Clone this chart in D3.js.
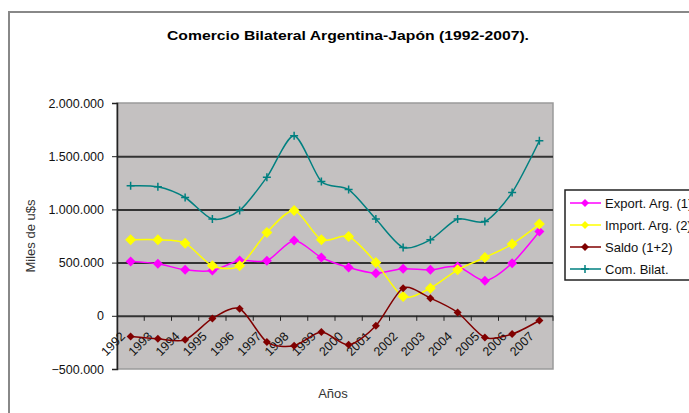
<!DOCTYPE html>
<html>
<head>
<meta charset="utf-8">
<script src="https://cdn.jsdelivr.net/npm/d3@7"></script>
<style>
  body { margin: 0; background: #fff; }
  svg { display: block; font-family: Arial, "Liberation Sans", sans-serif; }
</style>
</head>
<body>
<svg id="chart" width="689" height="413"></svg>
<script>
// data (miles de u$s)
var years = ["1992","1993","1994","1995","1996","1997","1998","1999","2000","2001","2002","2003","2004","2005","2006","2007"];
var exportArg = [510000, 489000, 432000, 426000, 520000, 517000, 708000, 548000, 454000, 401000, 442000, 432000, 464000, 329000, 495000, 792000];
var importArg = [714000, 714000, 683000, 470000, 470000, 783000, 990000, 714000, 745000, 501000, 181000, 260000, 432000, 548000, 674000, 862000];
var saldo     = [-194000, -216000, -226000, -25000, 66000, -247000, -282000, -153000, -273000, -94000, 260000, 166000, 31000, -204000, -172000, -44000];
var comBilat  = [1222000, 1212000, 1112000, 909000, 990000, 1303000, 1692000, 1262000, 1186000, 909000, 642000, 714000, 909000, 886000, 1159000, 1645000];
var yTicks = [-500000, 0, 500000, 1000000, 1500000, 2000000];

var series = [
    {name: "Export. Arg. (1)", values: exportArg, color: "#ff00ff", marker: "diamond", size: 5},
    {name: "Import. Arg. (2)", values: importArg, color: "#ffff00", marker: "diamond", size: 5.5},
    {name: "Saldo (1+2)",      values: saldo,     color: "#800000", marker: "diamond", size: 4},
    {name: "Com. Bilat.",      values: comBilat,  color: "#008080", marker: "plus",    size: 4}
];

var svg = d3.select("svg#chart");

var margin = {top: 103, right: 136, bottom: 44, left: 117};
var plotWidth = 689 - margin.left - margin.right;
var plotHeight = 413 - margin.top - margin.bottom;

var locale = d3.formatLocale({decimal: ",", thousands: ".", grouping: [3], currency: ["$", ""]});
var fmt = locale.format(",");

// outer frame of the chart area
svg.append("path")
    .attr("d", "M9,413 L9,12 L700,12")
    .attr("fill", "none")
    .attr("stroke", "#888888")
    .attr("stroke-width", 2);

svg.append("text")
    .attr("x", 348)
    .attr("y", 40)
    .attr("text-anchor", "middle")
    .attr("textLength", 362)
    .attr("lengthAdjust", "spacingAndGlyphs")
    .style("font-size", "13.5px")
    .style("font-weight", "bold")
    .text("Comercio Bilateral Argentina-Japón (1992-2007).");

var plot = svg.append("g")
    .attr("id", "plot")
    .attr("transform", "translate(" + margin.left + "," + margin.top + ")");

var x = d3.scaleBand()
    .domain(years)
    .range([0, plotWidth]);

var y = d3.scaleLinear()
    .domain([-500000, 2000000])
    .range([plotHeight, 0]);

plot.append("rect")
    .attr("width", plotWidth)
    .attr("height", plotHeight)
    .attr("fill", "#c4c1c1")
    .attr("stroke", "#9a9a9a")
    .attr("stroke-width", 1.5);

// gridlines
var gridlines = d3.axisLeft(y)
    .tickValues([0, 500000, 1000000, 1500000])
    .tickFormat("")
    .tickSize(-plotWidth);

plot.append("g")
    .call(gridlines)
    .call(function(g) { g.select(".domain").remove(); })
    .selectAll("line")
    .attr("stroke", "#333333")
    .attr("stroke-width", 2);

// y axis
var yAxis = d3.axisLeft(y)
    .tickValues(yTicks)
    .tickFormat(fmt)
    .tickSize(5)
    .tickPadding(8);

var yGroup = plot.append("g").attr("id", "y-axis").call(yAxis);
yGroup.select(".domain").attr("stroke", "#222").attr("stroke-width", 1.5);
yGroup.selectAll("line").attr("stroke", "#222");
yGroup.selectAll("text").style("font-size", "12.5px").attr("fill", "#111");

// x axis at zero: tick marks at category boundaries
var xAxis = d3.axisBottom(x).tickSize(0).tickFormat("");
var xGroup = plot.append("g")
    .attr("id", "x-axis")
    .attr("transform", "translate(0," + y(0) + ")")
    .call(xAxis);
xGroup.select(".domain").remove();

xGroup.selectAll("line.bound")
    .data(years.slice(1).concat(["end"]))
    .enter().append("line")
    .attr("class", "bound")
    .attr("x1", function(d, i) { return x.step() * (i + 1); })
    .attr("x2", function(d, i) { return x.step() * (i + 1); })
    .attr("y1", 0)
    .attr("y2", 5)
    .attr("stroke", "#222");

xGroup.selectAll("text.year")
    .data(years)
    .enter().append("text")
    .attr("class", "year")
    .attr("text-anchor", "end")
    .style("font-size", "12.5px")
    .attr("fill", "#111")
    .attr("transform", function(d) {
        return "translate(" + (x(d) + x.bandwidth() / 2 - 11) + ",15) rotate(-45)";
    })
    .attr("dy", "0.7em")
    .text(function(d) { return d; });

// lines (smoothed like the original)
var line = d3.line()
    .x(function(d, i) { return x(years[i]) + x.bandwidth() / 2; })
    .y(function(d) { return y(d); })
    .curve(d3.curveCardinal.tension(0.2));

function drawMarker(g, s) {
    if (s.marker === "diamond") {
        g.append("path")
            .attr("d", "M0," + (-s.size) + " L" + s.size + ",0 L0," + s.size + " L" + (-s.size) + ",0 Z")
            .attr("fill", s.color);
    } else {
        g.append("path")
            .attr("d", "M" + (-s.size) + ",0 L" + s.size + ",0 M0," + (-s.size) + " L0," + s.size)
            .attr("stroke", s.color)
            .attr("stroke-width", 1.5);
    }
}

series.forEach(function(s) {
    plot.append("path")
        .datum(s.values)
        .attr("d", line)
        .attr("fill", "none")
        .attr("stroke", s.color)
        .attr("stroke-width", 1.5);

    s.values.forEach(function(v, i) {
        var m = plot.append("g")
            .attr("transform", "translate(" + (x(years[i]) + x.bandwidth() / 2) + "," + y(v) + ")");
        drawMarker(m, s);
    });
});

// axis titles
svg.append("text")
    .attr("transform", "translate(35," + (margin.top + y(750000)) + ") rotate(-90)")
    .attr("text-anchor", "middle")
    .style("font-size", "13px")
    .attr("fill", "#333")
    .text("Miles de u$s");

svg.append("text")
    .attr("x", 333)
    .attr("y", 398)
    .attr("text-anchor", "middle")
    .style("font-size", "13px")
    .attr("fill", "#333")
    .text("Años");

// legend (runs past the right edge, as in the original)
var legend = svg.append("g").attr("transform", "translate(565,190)");
legend.append("rect")
    .attr("width", 150)
    .attr("height", 90)
    .attr("fill", "#fff")
    .attr("stroke", "#222")
    .attr("stroke-width", 1.5);

series.forEach(function(s, i) {
    var row = legend.append("g").attr("transform", "translate(0," + (13 + i * 22) + ")");
    row.append("line")
        .attr("x1", 5).attr("x2", 36)
        .attr("stroke", s.color)
        .attr("stroke-width", 1.5);
    var m = row.append("g").attr("transform", "translate(20,0)");
    drawMarker(m, {marker: s.marker, color: s.color, size: Math.min(s.size, 4)});
    row.append("text")
        .attr("x", 40)
        .attr("dy", "0.35em")
        .style("font-size", "13px")
        .attr("fill", "#111")
        .text(s.name);
});
</script>
</body>
</html>
